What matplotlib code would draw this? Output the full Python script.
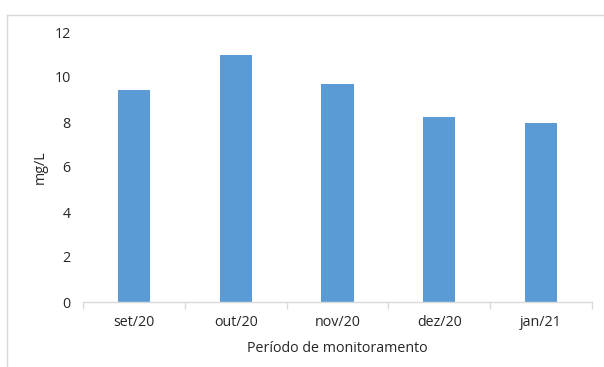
import matplotlib.pyplot as plt
import numpy as np
from matplotlib.lines import Line2D

months = ['set/20', 'out/20', 'nov/20', 'dez/20', 'jan/21']
conc = [9.43, 11.0, 9.67, 8.23, 7.97]
yticks = [0, 2, 4, 6, 8, 10, 12]

plt.rcParams['font.family'] = ['Open Sans', 'DejaVu Sans']
txt = '#262626'
fs = 10.3

fig = plt.figure(figsize=(6.04, 3.67), dpi=100)
ax = fig.add_axes([83/604, 1-302/367, (592-83)/604, (302-32)/367])

xpos = np.arange(len(months))
ax.bar(xpos, conc, width=0.315, color='#5b9bd5')

ax.set_xlim(-0.5, len(months) - 0.5)
ax.set_ylim(0, 12)
ax.set_yticks(yticks)
ax.set_xticks(xpos)
ax.set_xticklabels(months)
ax.set_xticks(np.arange(-0.5, len(months)), minor=True)
ax.tick_params(axis='x', which='major', length=0, pad=9, labelsize=fs, labelcolor=txt)
ax.tick_params(axis='x', which='minor', length=5, color='#d9d9d9', width=1)
ax.tick_params(axis='y', length=0, pad=9, labelsize=fs, labelcolor=txt)

for s in ['top', 'right', 'left']:
    ax.spines[s].set_visible(False)
ax.spines['bottom'].set_color('#d9d9d9')
ax.spines['bottom'].set_linewidth(1)

ax.set_ylabel('mg/L', fontsize=fs, color=txt, labelpad=5)
ax.set_xlabel('Período de monitoramento', fontsize=fs, color=txt, labelpad=8)

# light frame around the chart area
fx = 6.5/604
fy = 1 - 14.5/367
fig.add_artist(Line2D([fx, fx], [0, fy], transform=fig.transFigure, color='#d9d9d9', lw=1))
fig.add_artist(Line2D([fx, 1], [fy, fy], transform=fig.transFigure, color='#d9d9d9', lw=1))

fig.savefig('out.png', dpi=100)
